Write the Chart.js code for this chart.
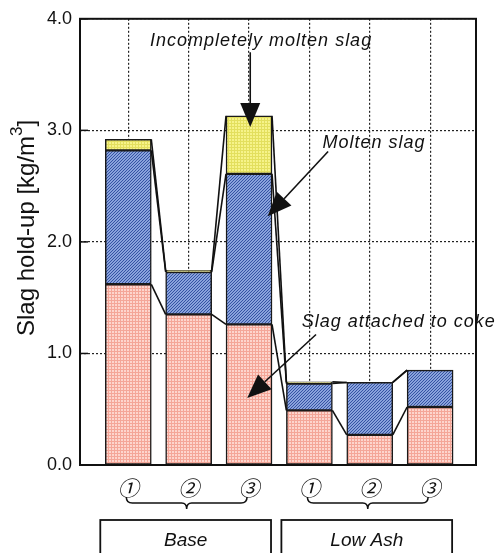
<!DOCTYPE html>
<html lang="en">
<head>
<meta charset="UTF-8" />
<title>Slag hold-up</title>
<script src="https://cdn.jsdelivr.net/npm/chart.js"></script>
<style>
  html, body { margin: 0; padding: 0; background: #fff; }
  #wrap { width: 497px; height: 553px; position: relative; }
</style>
</head>
<body>
<div id="wrap"><canvas id="slagChart"></canvas></div>
<script>
  // values, kg/m3
  const categories = ['①', '②', '③', '①', '②', '③'];
  const groups = ['Base', 'Low Ash'];
  const groupBars = [[0, 1, 2], [3, 4, 5]];
  const cokeSlag = [1.62, 1.35, 1.26, 0.49, 0.27, 0.52];
  const moltenSlag = [1.20, 0.38, 1.35, 0.24, 0.47, 0.33];
  const incompleteSlag = [0.10, 0.015, 0.52, 0.015, 0, 0];

  // labels pointing into the bars (data units)
  const notes = [
    { text: 'Incompletely molten slag', tx: 2.2, ty: 3.80, from: [2.02, 3.70], to: [2.02, 3.03] },
    { text: 'Molten slag', tx: 4.07, ty: 2.89, from: [3.31, 2.81], to: [2.31, 2.23] },
    { text: 'Slag attached to coke', tx: 4.48, ty: 1.28, from: [3.11, 1.17], to: [1.97, 0.60] }
  ];

  const canvas = document.getElementById('slagChart');
  const ctx = canvas.getContext('2d');

  function makePattern(bg, fg, kind) {
    const c = document.createElement('canvas');
    c.width = 3; c.height = 3;
    const g = c.getContext('2d');
    g.fillStyle = bg;
    g.fillRect(0, 0, 3, 3);
    g.fillStyle = fg;
    if (kind === 'diag') {
      for (let i = 0; i < 3; i++) g.fillRect(i, 2 - i, 1, 1);
    } else {
      g.fillRect(0, 0, 3, 1);
      g.fillRect(0, 0, 1, 3);
    }
    return ctx.createPattern(c, 'repeat');
  }

  const pinkFill = makePattern('#fdd5cd', '#f4a698', 'grid');
  const blueFill = makePattern('#8aa3dc', '#3553a3', 'diag');
  const yellowFill = makePattern('#f6f38a', '#e3df5e', 'grid');

  const toPoints = arr => arr.map((v, i) => ({ x: i, y: v }));

  function arrow(c, x0, y0, x1, y1, len, half) {
    const ang = Math.atan2(y1 - y0, x1 - x0);
    const bx = x1 - Math.cos(ang) * len, by = y1 - Math.sin(ang) * len;
    c.beginPath();
    c.moveTo(x0, y0);
    c.lineTo(bx, by);
    c.stroke();
    c.beginPath();
    c.moveTo(x1, y1);
    c.lineTo(bx + Math.sin(ang) * half, by - Math.cos(ang) * half);
    c.lineTo(bx - Math.sin(ang) * half, by + Math.cos(ang) * half);
    c.closePath();
    c.fill();
  }

  const decorations = {
    id: 'decorations',
    afterDatasetsDraw(chart) {
      const c = chart.ctx;
      const area = chart.chartArea;
      const xs = chart.scales.x, ys = chart.scales.y;
      c.save();
      c.strokeStyle = '#111';
      c.fillStyle = '#111';

      // series lines between neighbouring bars
      c.lineWidth = 1.6;
      chart.data.datasets.forEach((ds, di) => {
        const els = chart.getDatasetMeta(di).data;
        for (let i = 0; i < els.length - 1; i++) {
          const a = els[i], b = els[i + 1];
          c.beginPath();
          c.moveTo(a.x + a.width / 2, a.y);
          c.lineTo(b.x - b.width / 2, b.y);
          c.stroke();
        }
      });

      // inner tick marks on y axis
      c.lineWidth = 1.5;
      ys.ticks.forEach(t => {
        const y = ys.getPixelForValue(t.value);
        c.beginPath();
        c.moveTo(area.left, y);
        c.lineTo(area.left + 8, y);
        c.stroke();
      });

      // plot frame
      c.lineWidth = 2;
      c.strokeRect(area.left, area.top, area.right - area.left, area.bottom - area.top);

      // annotations
      c.font = 'italic 18px "Liberation Sans", Arial, sans-serif';
      c.letterSpacing = '1px';
      c.textAlign = 'center';
      c.textBaseline = 'middle';
      c.lineWidth = 1.6;
      notes.forEach(n => {
        c.fillText(n.text, xs.getPixelForValue(n.tx), ys.getPixelForValue(n.ty));
        arrow(c, xs.getPixelForValue(n.from[0]), ys.getPixelForValue(n.from[1]),
          xs.getPixelForValue(n.to[0]), ys.getPixelForValue(n.to[1]), 24, 10);
      });
      c.letterSpacing = '0px';

      // braces and group boxes
      const els = chart.getDatasetMeta(0).data;
      groupBars.forEach((idx, g) => {
        const first = els[idx[0]], last = els[idx[idx.length - 1]];
        const x0 = first.x - 2, x1 = last.x - 2, mid = (x0 + x1) / 2;
        const yTop = area.bottom + 32, yMid = area.bottom + 38, yTip = area.bottom + 44;
        c.lineWidth = 1.5;
        c.beginPath();
        c.moveTo(x0, yTop);
        c.quadraticCurveTo(x0, yMid, x0 + 6, yMid);
        c.lineTo(mid - 5, yMid);
        c.quadraticCurveTo(mid, yMid, mid, yTip);
        c.quadraticCurveTo(mid, yMid, mid + 5, yMid);
        c.lineTo(x1 - 6, yMid);
        c.quadraticCurveTo(x1, yMid, x1, yTop);
        c.stroke();

        const bl = first.x - first.width / 2 - 5, br = last.x + last.width / 2 - 1;
        const bt = area.bottom + 55;
        c.lineWidth = 1.8;
        c.strokeRect(bl, bt, br - bl, chart.height - bt + 10);
        c.font = 'italic 19px "Liberation Sans", Arial, sans-serif';
        c.fillText(groups[g], (bl + br) / 2, bt + 21);
      });

      // y axis title with superscript
      const main = 'Slag hold-up [kg/m', sup = '3', end = ']';
      const big = '24px "Liberation Sans", Arial, sans-serif';
      const small = '17px "Liberation Sans", Arial, sans-serif';
      c.font = big;
      const w1 = c.measureText(main).width, w3 = c.measureText(end).width;
      c.font = small;
      const w2 = c.measureText(sup).width;
      const total = w1 + w2 + w3;
      c.translate(27, area.top + (area.bottom - area.top) / 2 - 14);
      c.rotate(-Math.PI / 2);
      c.textAlign = 'left';
      c.textBaseline = 'middle';
      let x = -total / 2;
      c.font = big;
      c.fillText(main, x, 0);
      x += w1;
      c.font = small;
      c.fillText(sup, x, -10);
      x += w2;
      c.font = big;
      c.fillText(end, x, 0);
      c.restore();
    }
  };

  const barStyle = { borderColor: '#1a1a1a', borderWidth: 1.5, borderSkipped: false, barThickness: 46 };

  new Chart(ctx, {
    type: 'bar',
    data: {
      datasets: [
        { label: 'Slag attached to coke', data: toPoints(cokeSlag), backgroundColor: pinkFill, ...barStyle },
        { label: 'Molten slag', data: toPoints(moltenSlag), backgroundColor: blueFill, ...barStyle },
        { label: 'Incompletely molten slag', data: toPoints(incompleteSlag), backgroundColor: yellowFill, ...barStyle }
      ]
    },
    options: {
      responsive: true,
      maintainAspectRatio: false,
      animation: false,
      layout: { padding: { top: 16, right: 21, left: 0, bottom: 0 } },
      plugins: { legend: { display: false }, tooltip: { enabled: false } },
      scales: {
        x: {
          type: 'linear',
          stacked: true,
          min: -0.8,
          max: 5.76,
          offset: false,
          afterFit: s => { s.height = 88; },
          grid: { color: '#222', lineWidth: 1.2, drawTicks: false, offset: false },
          border: { display: false, dash: [2, 2] },
          ticks: {
            stepSize: 1,
            includeBounds: false,
            autoSkip: false,
            maxRotation: 0,
            padding: 10,
            color: '#111',
            font: { family: '"Noto Sans CJK JP", "DejaVu Sans", sans-serif', size: 21, style: 'italic' },
            callback: v => Number.isInteger(v) ? (categories[v] || '') : ''
          }
        },
        y: {
          stacked: true,
          min: 0,
          max: 4,
          afterFit: s => { s.width = 80; },
          grid: { color: '#222', lineWidth: 1.2, drawTicks: false },
          border: { display: false, dash: [2, 2] },
          ticks: {
            stepSize: 1,
            padding: 8,
            color: '#111',
            font: { family: '"Liberation Sans", Arial, sans-serif', size: 18 },
            callback: v => v.toFixed(1)
          }
        }
      }
    },
    plugins: [decorations]
  });
</script>
</body>
</html>
